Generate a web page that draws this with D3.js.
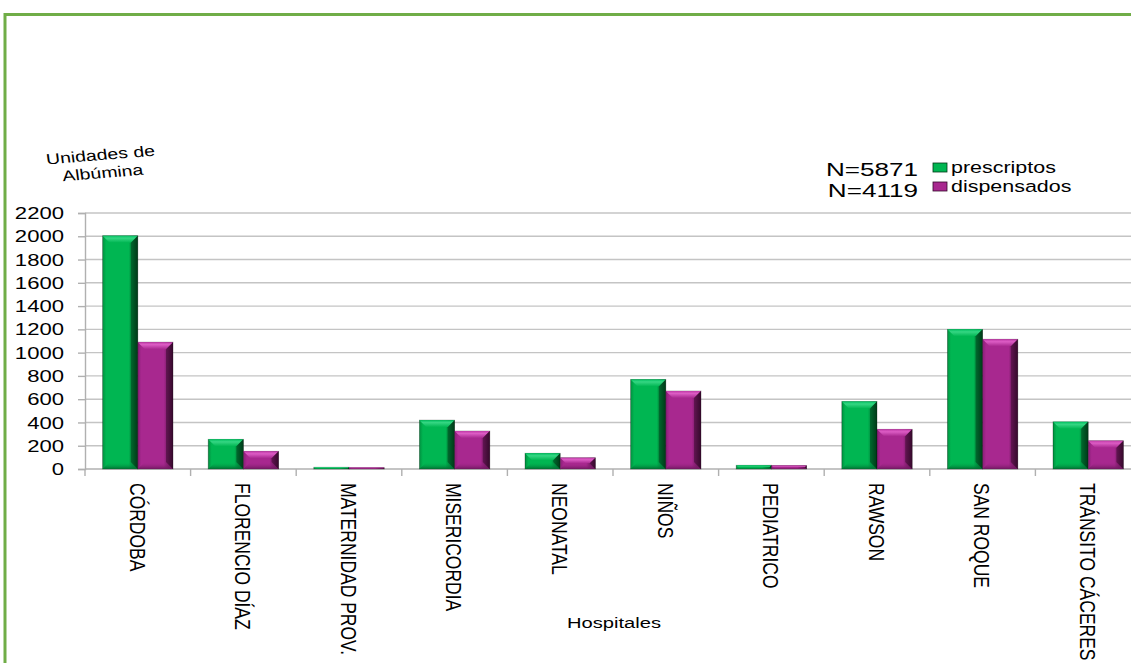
<!DOCTYPE html>
<html><head><meta charset="utf-8">
<script src="https://cdn.jsdelivr.net/npm/d3@7"></script>
<style>html,body{margin:0;padding:0;background:#fff;overflow:hidden}svg{display:block;font-family:"Liberation Sans",Arial,sans-serif}</style>
</head><body>
<svg id="c" width="1131" height="663"></svg>
<script>
const categories = ["CÓRDOBA","FLORENCIO DÍAZ","MATERNIDAD PROV.","MISERICORDIA","NEONATAL","NIÑOS","PEDIATRICO","RAWSON","SAN ROQUE","TRÁNSITO CÁCERES"];
const seriesNames = ["prescriptos","dispensados"];
const prescriptos = [2005, 255, 15, 420, 135, 770, 32, 580, 1200, 405];
const dispensados = [1090, 152, 12, 326, 97, 670, 30, 341, 1115, 243];
const nLabels = ["N=5871","N=4119"];
const yTicks = [0,200,400,600,800,1000,1200,1400,1600,1800,2000,2200];

const SX = 1.3; // horizontal text stretch of the reference
const svg = d3.select("#c");
const defs = svg.append("defs");

const pal = {
  prescriptos: {main:"#00b652", left:"#01903f", right:"#003a18", top:"#35d683", topEdge:"#00c060", bottom:"#016e31"},
  dispensados: {main:"#a8288f", left:"#8a1e78", right:"#36092c", top:"#dc5cc4", topEdge:"#c03aa8", bottom:"#701860"}
};
Object.entries(pal).forEach(([k,p])=>{
  const g = defs.append("linearGradient").attr("id","body-"+k).attr("x1","0").attr("x2","1").attr("y1","0").attr("y2","0");
  g.append("stop").attr("offset","0").attr("stop-color",p.left);
  g.append("stop").attr("offset","0.1").attr("stop-color",p.main);
  g.append("stop").attr("offset","0.74").attr("stop-color",p.main);
  g.append("stop").attr("offset","1").attr("stop-color",p.right);
  const t = defs.append("linearGradient").attr("id","top-"+k).attr("x1","0").attr("x2","0").attr("y1","0").attr("y2","1");
  t.append("stop").attr("offset","0").attr("stop-color",p.topEdge);
  t.append("stop").attr("offset","0.35").attr("stop-color",p.top);
  t.append("stop").attr("offset","1").attr("stop-color",p.main);
  const b = defs.append("linearGradient").attr("id","bot-"+k).attr("x1","0").attr("x2","0").attr("y1","0").attr("y2","1");
  b.append("stop").attr("offset","0").attr("stop-color",p.main).attr("stop-opacity",0);
  b.append("stop").attr("offset","1").attr("stop-color",p.bottom);
});

// frame
svg.append("line").attr("x1",4).attr("x2",1131).attr("y1",14.5).attr("y2",14.5).attr("stroke","#70ad47").attr("stroke-width",3);
svg.append("line").attr("x1",5).attr("x2",5).attr("y1",13).attr("y2",663).attr("stroke","#70ad47").attr("stroke-width",3);

const x0 = d3.scaleBand().domain(categories).range([85, 1141]).paddingInner(0).paddingOuter(0);
const x1 = d3.scaleBand().domain(seriesNames).range([0, x0.bandwidth()]).paddingInner(0).paddingOuter(0.5);
const y = d3.scaleLinear().domain([0,2200]).range([469,213]);

// gridlines
svg.append("g").selectAll("line").data(yTicks.filter(d=>d>0)).join("line")
  .attr("x1",85).attr("x2",1131).attr("y1",d=>y(d)).attr("y2",d=>y(d))
  .attr("stroke","#c4c4c4").attr("stroke-width",1.4);

// y axis
const yAxis = svg.append("g").attr("transform","translate(85,0)")
  .call(d3.axisLeft(y).tickValues(yTicks).tickSize(7).tickFormat(""));
yAxis.select(".domain").attr("stroke","#b0b0b0").attr("stroke-width",1.4);
yAxis.selectAll(".tick line").attr("stroke","#b0b0b0").attr("stroke-width",1.4);
svg.append("g").selectAll("g").data(yTicks).join("g")
  .attr("transform",d=>`translate(64,${y(d)}) scale(${SX},1)`)
  .append("text").attr("text-anchor","end").attr("dy","0.36em")
  .attr("font-size",17).attr("fill","#000").text(d=>d);

// x axis
svg.append("line").attr("x1",85).attr("x2",1131).attr("y1",469).attr("y2",469).attr("stroke","#b0b0b0").attr("stroke-width",1.4);
svg.append("g").selectAll("line").data(categories).join("line")
  .attr("x1",d=>x0(d)).attr("x2",d=>x0(d)).attr("y1",469).attr("y2",476)
  .attr("stroke","#b0b0b0").attr("stroke-width",1.4);

// bars
const rows = categories.map((c,i)=>({cat:c, vals:[{s:"prescriptos",v:prescriptos[i]},{s:"dispensados",v:dispensados[i]}]}));
const bev = 7;
const groups = svg.append("g").selectAll("g").data(rows).join("g").attr("transform",d=>`translate(${x0(d.cat)},0)`);
const bars = groups.selectAll("g").data(d=>d.vals).join("g");
bars.each(function(d){
  const g = d3.select(this);
  const bx = x1(d.s), bw = x1.bandwidth();
  const top = y(d.v), bot = y(0), h = bot-top;
  const p = pal[d.s];
  const b = Math.min(bev, h/2);
  g.append("rect").attr("x",bx).attr("y",top).attr("width",bw).attr("height",h)
    .attr("fill",`url(#body-${d.s})`).attr("stroke","rgba(0,0,0,0.35)").attr("stroke-width",0.8);
  g.append("polygon").attr("points",[[bx,top],[bx+bw,top],[bx+bw-b,top+b],[bx+b,top+b]].map(q=>q.join(",")).join(" "))
    .attr("fill",`url(#top-${d.s})`);
  g.append("polygon").attr("points",[[bx,bot],[bx+bw,bot],[bx+bw-b,bot-b],[bx+b,bot-b]].map(q=>q.join(",")).join(" "))
    .attr("fill",`url(#bot-${d.s})`);
  g.append("polygon").attr("points",[[bx+bw,top],[bx+bw,bot],[bx+bw-b,bot-b],[bx+bw-b,top+b]].map(q=>q.join(",")).join(" "))
    .attr("fill",p.right).attr("opacity",0.5);
});

// category labels
svg.append("g").selectAll("g").data(categories).join("g")
  .attr("transform",d=>`translate(${x0(d)+x0.bandwidth()/2},483) scale(${SX},1) rotate(90)`)
  .append("text").attr("dy","0.36em").attr("font-size",17.5).attr("fill","#000").text(d=>d);

// axis titles
svg.append("g").attr("transform",`translate(614,628) scale(${SX},1)`)
  .append("text").attr("text-anchor","middle").attr("font-size",15.5).attr("fill","#000").text("Hospitales");
const yt = svg.append("g").attr("transform",`translate(102,167) scale(${SX},1) rotate(-6)`);
yt.append("text").attr("text-anchor","middle").attr("y",-7).attr("font-size",15).attr("fill","#000").text("Unidades de");
yt.append("text").attr("text-anchor","middle").attr("y",11).attr("font-size",15).attr("fill","#000").text("Albúmina");

// legend
const leg = svg.append("g");
nLabels.forEach((t,i)=>{
  leg.append("g").attr("transform",`translate(918,${[175.5,196.5][i]}) scale(1.45,1)`)
    .append("text").attr("text-anchor","end").attr("font-size",18).attr("fill","#000").text(t);
});
seriesNames.forEach((s,i)=>{
  const yb = [173,192][i];
  leg.append("rect").attr("x",933).attr("y",yb-10).attr("width",14).attr("height",9)
    .attr("fill",pal[s].main).attr("stroke",pal[s].right).attr("stroke-width",0.8);
  leg.append("g").attr("transform",`translate(951,${yb}) scale(${SX},1)`)
    .append("text").attr("font-size",16.5).attr("fill","#000").text(s);
});
</script>
</body></html>
